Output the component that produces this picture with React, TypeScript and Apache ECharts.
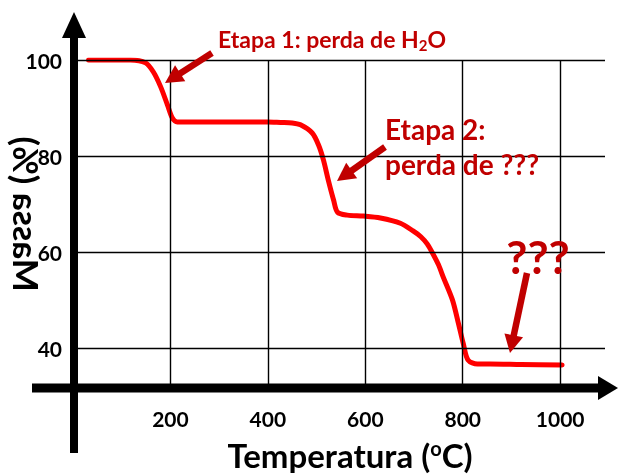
import React, { useEffect, useRef } from "react";
import * as echarts from "echarts";

const temperatures = [32, 118, 149, 165, 180, 194, 204, 214, 300, 400, 426, 450, 467, 491, 504, 514, 524, 535, 543, 563, 596, 631, 672, 698, 714, 727, 739, 750, 760, 779, 791, 801, 811, 830, 856, 920, 1004];
const massPercent = [100, 100, 99.4, 97.5, 94.4, 90.6, 87.9, 87.1, 87.1, 87.1, 87.0, 86.9, 86.5, 84.8, 82.3, 79.2, 75.0, 70.8, 68.3, 67.7, 67.5, 67.1, 66.0, 64.4, 63.2, 61.7, 59.6, 57.4, 54.8, 50.0, 45.2, 41.0, 37.5, 36.7, 36.7, 36.6, 36.5];
const xTicks = [200, 400, 600, 800, 1000];
const yTicks = [40, 60, 80, 100];

const FONT = "Lato, 'Open Sans', sans-serif";
const DARK = "#c00000";

function arrow(x1: number, y1: number, x2: number, y2: number, color: string, w: number, hl: number, hw: number, z = 20) {
  const dx = x2 - x1, dy = y2 - y1;
  const L = Math.hypot(dx, dy);
  const ux = dx / L, uy = dy / L;
  const bx = x2 - ux * hl, by = y2 - uy * hl;
  const px = -uy, py = ux;
  return [
    { type: "line", z, shape: { x1, y1, x2: bx + ux * 2, y2: by + uy * 2 }, style: { stroke: color, lineWidth: w } },
    { type: "polygon", z, shape: { points: [[x2, y2], [bx + px * hw, by + py * hw], [bx - px * hw, by - py * hw]] }, style: { fill: color } },
  ];
}

export default function App() {
  const ref = useRef<HTMLDivElement>(null);
  useEffect(() => {
    const chart = echarts.init(ref.current!, null, { renderer: "svg" });
    const data = temperatures.map((t, i) => [t, massPercent[i]]);
    chart.setOption({
      animation: false,
      grid: { left: 73, right: 13, top: 60, bottom: 86 },
      xAxis: {
        type: "value", min: 0, max: 1092, interval: 200,
        axisLine: { show: false }, axisTick: { show: false, customValues: xTicks }, splitLine: { show: false },
        axisLabel: { customValues: xTicks, formatter: (v: number) => String(v), fontSize: 21, fontWeight: "bold", color: "#000", fontFamily: FONT, margin: 20 },
      },
      yAxis: {
        type: "value", min: 31.7, max: 100,
        axisLine: { show: false }, axisTick: { show: false, customValues: yTicks }, splitLine: { show: false },
        axisLabel: { customValues: yTicks, formatter: (v: number) => String(v), fontSize: 21, fontWeight: "bold", color: "#000", fontFamily: FONT, margin: 11 },
      },
      series: [
        {
          type: "line", data: [], z: 1, silent: true,
          markLine: {
            silent: true, symbol: ["none", "none"], label: { show: false },
            lineStyle: { color: "#000", width: 1.4, type: "solid" },
            data: [...xTicks.map((v) => ({ xAxis: v })), ...yTicks.map((v) => ({ yAxis: v }))],
          },
        },
        {
          type: "line", data, z: 3, showSymbol: false, smooth: 0.3,
          lineStyle: { color: "#ff0000", width: 5, cap: "round", join: "round" },
        },
      ],
      graphic: [
        // axes
        { type: "line", z: 10, shape: { x1: 74, y1: 453, x2: 74, y2: 30 }, style: { stroke: "#000", lineWidth: 8 } },
        { type: "polygon", z: 10, shape: { points: [[74, 12], [62, 38], [86, 38]] }, style: { fill: "#000" } },
        { type: "line", z: 10, shape: { x1: 32, y1: 388, x2: 602, y2: 388 }, style: { stroke: "#000", lineWidth: 9 } },
        { type: "polygon", z: 10, shape: { points: [[618, 388], [598, 376], [598, 400]] }, style: { fill: "#000" } },
        // axis titles
        {
          type: "text", z: 10, x: 27, y: 214, rotation: Math.PI / 2, scaleY: -1,
          style: { text: "Massa (%)", fontSize: 35, fontWeight: "bold", fontFamily: FONT, fill: "#000", textAlign: "center", textVerticalAlign: "middle", align: "center", verticalAlign: "middle" },
        },
        {
          type: "text", z: 10, x: 350, y: 455,
          style: {
            text: "{a|Temperatura (}{b|o}{a|C)}", textAlign: "center", textVerticalAlign: "middle", align: "center", verticalAlign: "middle",
            rich: {
              a: { fontSize: 33, fontWeight: "bold", fontFamily: FONT, fill: "#000", color: "#000", lineHeight: 34 },
              b: { fontSize: 20, fontWeight: "bold", fontFamily: FONT, fill: "#000", color: "#000", lineHeight: 20, verticalAlign: "top" },
            },
          },
        },
        // annotations
        {
          type: "text", z: 20, x: 218, y: 39,
          style: {
            text: "{a|Etapa 1: perda de H}{s|2}{a|O}", textAlign: "left", textVerticalAlign: "middle", align: "left", verticalAlign: "middle",
            rich: {
              a: { fontSize: 23, fontWeight: "bold", fontFamily: FONT, fill: DARK, color: DARK, lineHeight: 27 },
              s: { fontSize: 15, fontWeight: "bold", fontFamily: FONT, fill: DARK, color: DARK, lineHeight: 15, verticalAlign: "bottom" },
            },
          },
        },
        {
          type: "text", z: 20, x: 385, y: 129,
          style: { text: "Etapa 2:", fontSize: 28, fontWeight: "bold", fontFamily: FONT, fill: DARK, textAlign: "left", textVerticalAlign: "middle", align: "left", verticalAlign: "middle" },
        },
        {
          type: "text", z: 20, x: 385, y: 164,
          style: { text: "perda de ???", fontSize: 28, fontWeight: "bold", fontFamily: FONT, fill: DARK, textAlign: "left", textVerticalAlign: "middle", align: "left", verticalAlign: "middle" },
        },
        {
          type: "text", z: 20, x: 538, y: 256,
          style: { text: "???", fontSize: 46, fontWeight: "bold", fontFamily: FONT, fill: DARK, textAlign: "center", textVerticalAlign: "middle", align: "center", verticalAlign: "middle" },
        },
        ...arrow(212, 53, 165, 83, DARK, 6.5, 18, 9.5),
        ...arrow(385, 147, 337, 181, DARK, 6.5, 18, 9.5),
        ...arrow(527, 273, 510, 353, DARK, 6.5, 18, 9.5),
      ],
    });
    return () => chart.dispose();
  }, []);
  return <div ref={ref} style={{ position: "fixed", left: 0, top: 0, width: 618, height: 474 }} />;
}
